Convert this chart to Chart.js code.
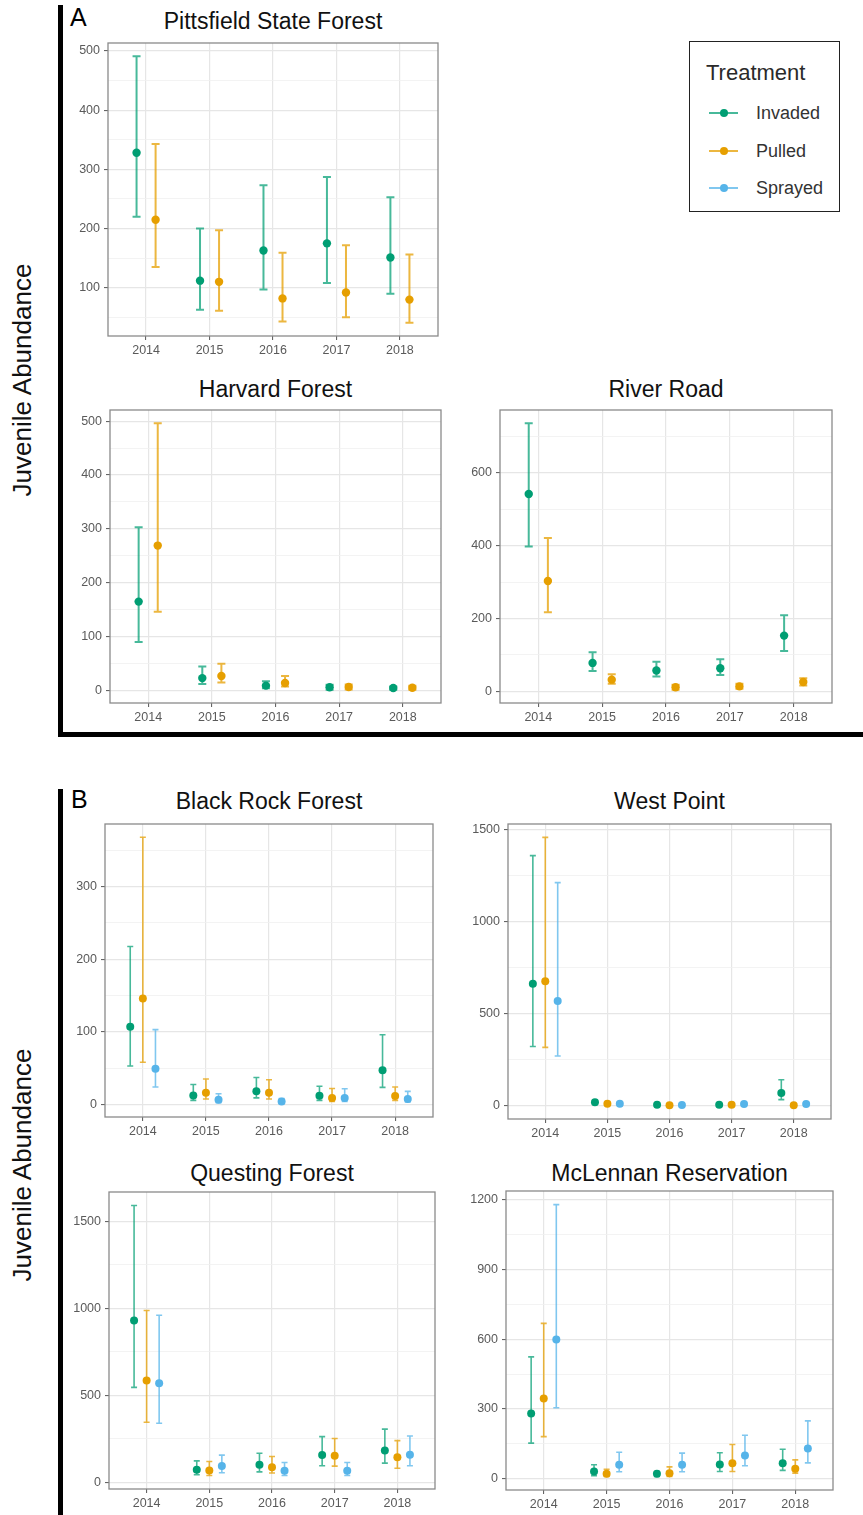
<!DOCTYPE html>
<html>
<head>
<meta charset="utf-8">
<script src="https://cdn.jsdelivr.net/npm/chart.js@4.4.1/dist/chart.umd.min.js"></script>
<style>
  body { margin: 0; width: 863px; height: 1515px; position: relative; overflow: hidden; background: #fff;
         font-family: "Liberation Sans", Arial, sans-serif; }
  .title { position: absolute; font-size: 23px; line-height: 23px; color: #111; text-align: center; white-space: nowrap; }
  .letter { position: absolute; font-size: 25px; line-height: 25px; color: #000; }
  .ylab { position: absolute; width: 300px; font-size: 26px; line-height: 30px; color: #111; text-align: center;
          transform: rotate(-90deg); white-space: nowrap; }
  .bar { position: absolute; background: #000; }
  canvas { position: absolute; }
  #legend { position: absolute; left: 689px; top: 41px; width: 149px; height: 169px; border: 1.5px solid #222; }
  #legend .lt { position: absolute; left: 16px; top: 20px; font-size: 22px; line-height: 22px; color: #2a2a2a; }
  #legend .item { position: absolute; left: 0; height: 20px; width: 149px; }
  #legend .ln { position: absolute; left: 19px; top: 9px; width: 29px; height: 2px; }
  #legend .dot { position: absolute; left: 29.5px; top: 6px; width: 8px; height: 8px; border-radius: 50%; }
  #legend .lab { position: absolute; left: 66px; top: 1px; font-size: 18px; line-height: 18px; color: #333; }
</style>
</head>
<body>
<div class="bar" style="left:58px; top:5px; width:5px; height:732px;"></div>
<div class="bar" style="left:58px; top:732px; width:805px; height:5px;"></div>
<div class="bar" style="left:58px; top:789px; width:5px; height:726px;"></div>
<div class="letter" style="left:70px; top:5px;">A</div>
<div class="letter" style="left:71px; top:787px;">B</div>
<div class="ylab" style="left:-128px; top:365px;">Juvenile Abundance</div>
<div class="ylab" style="left:-128px; top:1150px;">Juvenile Abundance</div>
<div id="legend"><div class="lt">Treatment</div></div>

<script>
// ---- data ----
const years = [2014, 2015, 2016, 2017, 2018];
const treatments = ['Invaded', 'Pulled', 'Sprayed'];
const sites = ['Pittsfield State Forest', 'Harvard Forest', 'River Road',
               'Black Rock Forest', 'West Point', 'Questing Forest', 'McLennan Reservation'];

// rows: Invaded, Pulled (, Sprayed)
const pittsfieldMean = [[328, 112, 163, 175, 151], [215, 110, 82, 92, 80]];
const pittsfieldLow  = [[220, 63, 97, 108, 90], [135, 61, 43, 50, 41]];
const pittsfieldHigh = [[491, 200, 273, 287, 253], [343, 197, 159, 172, 156]];

const harvardMean = [[165, 23, 9, 6, 4.5], [269, 27, 14, 6.5, 5]];
const harvardLow  = [[90, 12, 4, 1.5, 1.5], [146, 15, 7.5, 2, 1.5]];
const harvardHigh = [[303, 44.5, 17, 10.5, 7.5], [496, 49.5, 27, 11, 9]];

const riverRoadMean = [[542, 78, 57, 63.5, 153], [303, 32, 11, 13.5, 25.5]];
const riverRoadLow  = [[398, 56, 41, 45, 111], [217, 21, 4.5, 7, 16]];
const riverRoadHigh = [[736, 107, 81, 88, 209], [421, 47, 18, 21, 36]];

const blackRockMean = [[107, 12.4, 18, 12, 47], [146, 16, 16, 9, 11.5], [49, 6.5, 4, 9, 7.4]];
const blackRockLow  = [[53, 5.5, 9, 5.5, 23.5], [58, 7.4, 7.4, 4, 5.5], [24, 2.3, 1, 4, 3.3]];
const blackRockHigh = [[217.5, 27.5, 37, 25, 96], [368, 35, 34, 22, 24], [103, 14.7, 8, 21.6, 18]];

const westPointMean = [[663, 18, 5, 5, 69], [676, 11, 2, 5, 2], [569, 11, 4, 9, 9]];
const westPointLow  = [[322, 7, 2, 2, 33], [317, 4, 0.5, 2, 0.5], [270, 5, 1, 4, 4]];
const westPointHigh = [[1359, 29, 9, 9, 141], [1458, 18, 4, 8, 4], [1212, 18, 7, 15, 14]];

const questingMean = [[930, 73, 101, 157, 183], [586, 69, 88, 153, 145], [569, 94, 67, 67, 159]];
const questingLow  = [[546, 44, 61, 96, 111], [346, 40, 54, 94, 82], [340, 56, 40, 40, 96]];
const questingHigh = [[1590, 124, 168, 263, 306], [987, 120, 149, 252, 240], [960, 157, 115, 115, 267]];

const mclennanMean = [[281, 31, 21, 61, 67], [345, 21, 24, 67, 43], [599, 60, 60, 100, 130]];
const mclennanLow  = [[153, 13, 10, 31, 36], [181, 10, 10, 31, 24], [305, 30, 30, 56, 68]];
const mclennanHigh = [[524, 60, 31, 112, 127], [668, 41, 51, 147, 81], [1179, 114, 110, 187, 249]];

// y tick labels
const pittsfieldTicks = [100, 200, 300, 400, 500];
const harvardTicks = [0, 100, 200, 300, 400, 500];
const riverRoadTicks = [0, 200, 400, 600];
const blackRockTicks = [0, 100, 200, 300];
const westPointTicks = [0, 500, 1000, 1500];
const questingTicks = [0, 500, 1000, 1500];
const mclennanTicks = [0, 300, 600, 900, 1200];

// ---- styling / layout ----
const colors = ['#009E73', '#E69F00', '#56B4E9'];
const barColors = ['rgba(0,158,115,0.72)', 'rgba(230,159,0,0.75)', 'rgba(86,180,233,0.75)'];
const YW = 44, XH = 26, PAD = 12;

const panels = [
  { name: sites[0], mean: pittsfieldMean, low: pittsfieldLow, high: pittsfieldHigh, ticks: pittsfieldTicks, left: 108, top: 43, w: 330, h: 293, ty: 21.7 },
  { name: sites[1], mean: harvardMean, low: harvardLow, high: harvardHigh, ticks: harvardTicks, left: 110, top: 410, w: 331, h: 293, ty: 389.5 },
  { name: sites[2], mean: riverRoadMean, low: riverRoadLow, high: riverRoadHigh, ticks: riverRoadTicks, left: 500, top: 410, w: 332, h: 293, ty: 389.5 },
  { name: sites[3], mean: blackRockMean, low: blackRockLow, high: blackRockHigh, ticks: blackRockTicks, left: 105, top: 824, w: 328, h: 293, ty: 801.5 },
  { name: sites[4], mean: westPointMean, low: westPointLow, high: westPointHigh, ticks: westPointTicks, left: 508, top: 824, w: 323, h: 295, ty: 801.5 },
  { name: sites[5], mean: questingMean, low: questingLow, high: questingHigh, ticks: questingTicks, left: 109, top: 1192, w: 326, h: 297, ty: 1173 },
  { name: sites[6], mean: mclennanMean, low: mclennanLow, high: mclennanHigh, ticks: mclennanTicks, left: 506, top: 1191, w: 327, h: 299, ty: 1173 },
];

// error bars drawn under the points
const errorBars = {
  id: 'errorBars',
  beforeDatasetsDraw(chart, args, opts) {
    const { ctx, scales: { x, y } } = chart;
    ctx.save();
    ctx.lineWidth = opts.width;
    chart.data.datasets.forEach(ds => {
      ctx.strokeStyle = ds.barColor;
      ds.data.forEach((pt, j) => {
        const px = x.getPixelForValue(pt.x);
        const y1 = y.getPixelForValue(ds.low[j]);
        const y2 = y.getPixelForValue(ds.high[j]);
        ctx.beginPath();
        ctx.moveTo(px, y1); ctx.lineTo(px, y2);
        ctx.moveTo(px - opts.cap, y1); ctx.lineTo(px + opts.cap, y1);
        ctx.moveTo(px - opts.cap, y2); ctx.lineTo(px + opts.cap, y2);
        ctx.stroke();
      });
    });
    ctx.restore();
  }
};

const panelBorder = {
  id: 'panelBorder',
  afterDatasetsDraw(chart) {
    const { ctx, chartArea: a } = chart;
    ctx.save();
    ctx.strokeStyle = '#8a8a8a';
    ctx.lineWidth = 1.3;
    ctx.strokeRect(a.left, a.top, a.right - a.left, a.bottom - a.top);
    ctx.restore();
  }
};

function makePanel(p) {
  const n = p.mean.length;
  const offsets = n === 2 ? [-0.15, 0.15] : [-0.2, 0, 0.2];

  // ggplot-like 5% expansion of the data range
  const lo = Math.min(...p.low.flat()), hi = Math.max(...p.high.flat());
  const ymin = lo - 0.05 * (hi - lo), ymax = hi + 0.05 * (hi - lo);

  const step = p.ticks[1] - p.ticks[0];
  const minor = [];
  for (let v = p.ticks[0] - step / 2; v <= ymax; v += step) {
    if (v >= ymin && !p.ticks.includes(v)) minor.push(v);
  }
  const yTicks = p.ticks.concat(minor).sort((a, b) => a - b);
  const isMajor = v => p.ticks.includes(v);

  const title = document.createElement('div');
  title.className = 'title';
  title.textContent = p.name;
  title.style.left = (p.left + p.w / 2 - 200) + 'px';
  title.style.width = '400px';
  title.style.top = (p.ty - 11.5) + 'px';
  document.body.appendChild(title);

  const canvas = document.createElement('canvas');
  const W = YW + p.w + PAD, H = PAD + p.h + XH;
  canvas.width = W; canvas.height = H;
  canvas.style.width = W + 'px'; canvas.style.height = H + 'px';
  canvas.style.left = (p.left - YW) + 'px';
  canvas.style.top = (p.top - PAD) + 'px';
  document.body.appendChild(canvas);

  const radius = n === 2 ? 4.2 : 4;
  const datasets = p.mean.map((vals, i) => ({
    label: treatments[i],
    data: years.map((yr, j) => ({ x: yr + offsets[i], y: vals[j] })),
    low: p.low[i],
    high: p.high[i],
    backgroundColor: colors[i],
    borderColor: colors[i],
    barColor: barColors[i],
    pointRadius: radius,
    pointHoverRadius: radius,
    pointBorderWidth: 0
  }));

  const tickFont = { family: 'Liberation Sans', size: 12.5 };

  new Chart(canvas, {
    type: 'scatter',
    data: { datasets },
    options: {
      responsive: false,
      animation: false,
      layout: { padding: { top: PAD, right: PAD, left: 0, bottom: 0 } },
      plugins: {
        legend: { display: false },
        tooltip: { enabled: false },
        errorBars: { width: n === 2 ? 2 : 1.6, cap: n === 2 ? 4 : 3 }
      },
      scales: {
        x: {
          type: 'linear',
          min: 2013.4,
          max: 2018.6,
          afterBuildTicks: s => { s.ticks = years.map(v => ({ value: v })); },
          afterFit: s => { s.height = XH; },
          border: { display: false },
          grid: { color: '#e6e6e6', lineWidth: 1.2, tickColor: '#555', tickLength: 4, tickWidth: 1 },
          ticks: { callback: v => String(v), font: tickFont, color: '#5a5a5a', padding: 3, maxRotation: 0 }
        },
        y: {
          type: 'linear',
          min: ymin,
          max: ymax,
          afterBuildTicks: s => { s.ticks = yTicks.map(v => ({ value: v })); },
          afterFit: s => { s.width = YW; },
          border: { display: false },
          grid: {
            color: c => (c.tick && isMajor(c.tick.value)) ? '#e6e6e6' : '#f0f0f0',
            lineWidth: c => (c.tick && isMajor(c.tick.value)) ? 1.2 : 0.8,
            tickColor: c => (c.tick && isMajor(c.tick.value)) ? '#555' : 'rgba(0,0,0,0)',
            tickLength: 4,
            tickWidth: 1
          },
          ticks: { callback: v => isMajor(v) ? String(v) : '', font: tickFont, color: '#5a5a5a', padding: 4 }
        }
      }
    },
    plugins: [errorBars, panelBorder]
  });
}

panels.forEach(makePanel);

// legend
const legend = document.getElementById('legend');
treatments.forEach((t, i) => {
  const item = document.createElement('div');
  item.className = 'item';
  item.style.top = (61 + i * 37.5) + 'px';
  item.innerHTML = '<div class="ln" style="background:' + barColors[i] + '"></div>' +
                   '<div class="dot" style="background:' + colors[i] + '"></div>' +
                   '<div class="lab">' + t + '</div>';
  legend.appendChild(item);
});
</script>
</body>
</html>
